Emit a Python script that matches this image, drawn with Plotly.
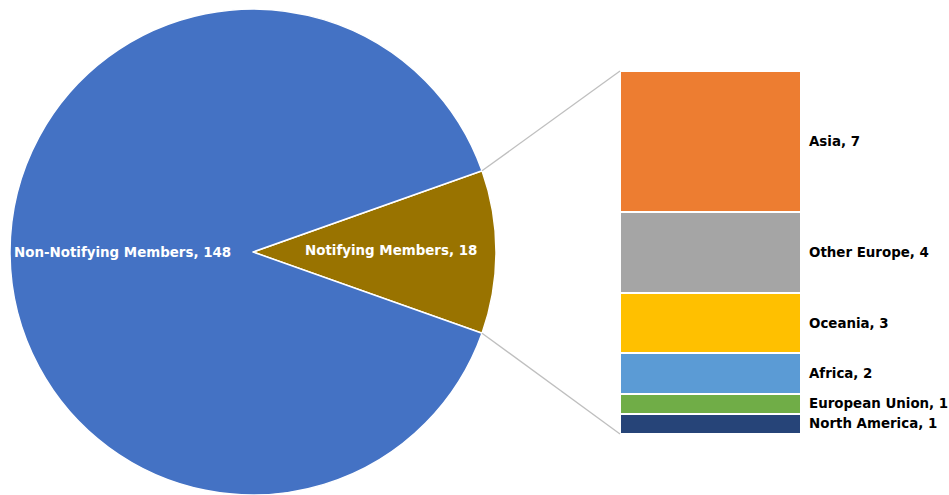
import math
import plotly.graph_objects as go

# ---- data ----
pie_labels = ["Notifying Members", "Non-Notifying Members"]
pie_values = [18, 148]
pie_colors = ["#997300", "#4472C4"]

bar_labels = ["North America", "European Union", "Africa", "Oceania", "Other Europe", "Asia"]
bar_values = [1, 1, 2, 3, 4, 7]
bar_colors = ["#264478", "#70AD47", "#5B9BD5", "#FFC000", "#A5A5A5", "#ED7D31"]

W, H = 949, 495
FONT = "DejaVu Sans, Verdana, sans-serif"
FS = 13.4

# layout geometry (screen pixels)
pie_cx, pie_cy, pie_r = 253, 252, 243
bar_x0, bar_x1 = 620, 801
bar_top, bar_bot = 71, 434

def px(x):
    return x / W

def py(y):
    return (H - y) / H

fig = go.Figure()

half_angle = pie_values[0] / sum(pie_values) * 360 / 2
fig.add_trace(go.Pie(
    labels=pie_labels, values=pie_values, sort=False, direction="clockwise",
    rotation=90 - half_angle,
    marker=dict(colors=pie_colors, line=dict(color="white", width=1.5)),
    textinfo="none", hoverinfo="label+value", showlegend=False,
    domain=dict(x=[max(0, px(pie_cx - pie_r)), px(pie_cx + pie_r)],
                y=[max(0, py(pie_cy + pie_r)), py(pie_cy - pie_r)]),
))

for lab, val, col in zip(bar_labels, bar_values, bar_colors):
    fig.add_trace(go.Bar(
        x=[0], y=[val], name=lab, width=1,
        marker=dict(color=col, line=dict(color="white", width=2)),
        showlegend=False, hoverinfo="name+y",
    ))

total = sum(bar_values)
fig.update_layout(
    barmode="stack", width=W, height=H,
    margin=dict(l=0, r=0, t=0, b=0),
    paper_bgcolor="white", plot_bgcolor="white",
    font=dict(family=FONT, size=FS, color="black"),
    xaxis=dict(domain=[px(bar_x0), px(bar_x1)], range=[-0.5, 0.5], visible=False, fixedrange=True),
    yaxis=dict(domain=[py(bar_bot), py(bar_top)], range=[0, total], visible=False, fixedrange=True),
)

# bar labels
cum = 0
for lab, val in zip(bar_labels, bar_values):
    mid = cum + val / 2
    cum += val
    fig.add_annotation(x=px(bar_x1 + 6), xref="paper", y=mid, yref="y",
                       text=f"<b>{lab}, {val}</b>", showarrow=False,
                       xanchor="left", yanchor="middle",
                       font=dict(family=FONT, size=FS, color="black"))

# pie labels
fig.add_annotation(x=px(122), y=py(253), xref="paper", yref="paper",
                   xanchor="center", yanchor="middle",
                   text=f"<b>{pie_labels[1]}, {pie_values[1]}</b>", showarrow=False,
                   font=dict(family=FONT, size=FS, color="white"))
fig.add_annotation(x=px(391), y=py(251), xref="paper", yref="paper",
                   xanchor="center", yanchor="middle",
                   text=f"<b>{pie_labels[0]}, {pie_values[0]}</b>", showarrow=False,
                   font=dict(family=FONT, size=FS, color="white"))

# connector lines from slice edges to bar corners
a = math.radians(half_angle)
ex = pie_cx + pie_r * math.cos(a)
for sign, by in ((-1, bar_top), (1, bar_bot)):
    ey = pie_cy + sign * pie_r * math.sin(a)
    fig.add_shape(type="line", xref="paper", yref="paper",
                  x0=px(ex), y0=py(ey), x1=px(bar_x0), y1=py(by),
                  line=dict(color="#BFBFBF", width=1.3))

fig.write_html(
    "out.html",
    config={"displayModeBar": False},
    post_script="document.body.style.margin='0';document.body.style.overflow='hidden';",
)
